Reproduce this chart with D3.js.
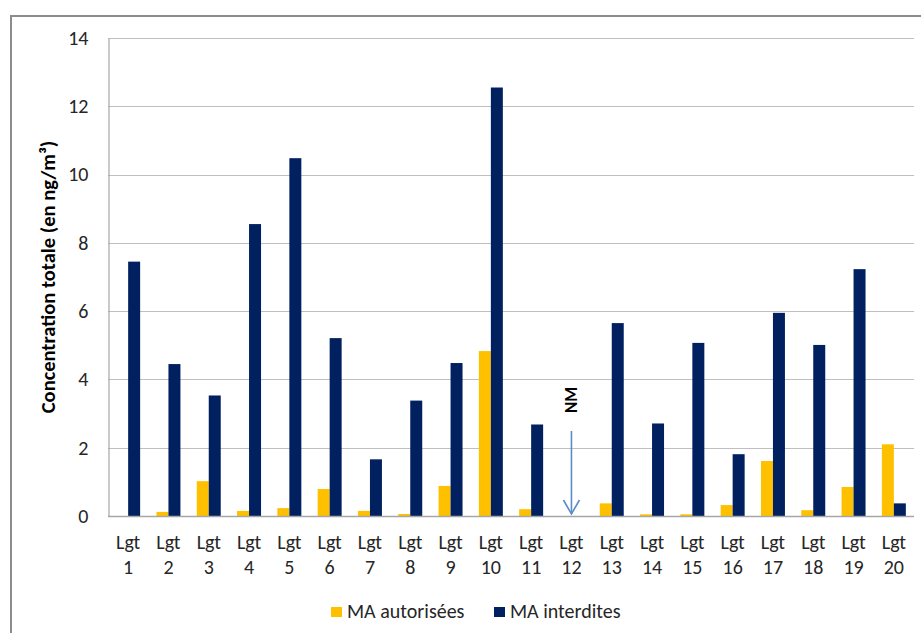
<!DOCTYPE html>
<html>
<head>
<meta charset="utf-8">
<script src="https://cdn.jsdelivr.net/npm/d3@7"></script>
<style>
  html, body { margin: 0; padding: 0; background: #fff; }
  svg { display: block; font-family: Carlito, Calibri, Lato, "Open Sans", sans-serif; }
</style>
</head>
<body>
<svg id="chart" width="921" height="633"></svg>
<script>
// Sites (Lgt = logement) and total concentrations, ng/m³
const categories = ["1","2","3","4","5","6","7","8","9","10","11","12","13","14","15","16","17","18","19","20"];
const seriesNames = ["MA autorisées", "MA interdites"];
const autorisees = [0, 0.12, 1.02, 0.15, 0.23, 0.79, 0.15, 0.06, 0.88, 4.83, 0.2, 0, 0.37, 0.05, 0.05, 0.32, 1.61, 0.17, 0.85, 2.1];
const interdites = [7.45, 4.45, 3.53, 8.55, 10.48, 5.21, 1.66, 3.38, 4.48, 12.55, 2.68, null, 5.65, 2.71, 5.07, 1.81, 5.95, 5.01, 7.23, 0.37];
const yTicks = [0, 2, 4, 6, 8, 10, 12, 14];
const notMeasured = "12"; // site without measurement
const colors = ["#FFC000", "#002060"];

const svg = d3.select("#chart");

// outer frame (top and left edges visible)
svg.append("path")
  .attr("d", "M11,650 V16 H940")
  .attr("fill", "none").attr("stroke", "#8c8c8c").attr("stroke-width", 2);

const plot = { left: 108, right: 914, top: 38, bottom: 516 };

const x0 = d3.scaleBand()
  .domain(categories)
  .range([plot.left, plot.right])
  .paddingInner(0.405)
  .paddingOuter(0.2025);
const x1 = d3.scaleBand().domain(seriesNames).range([0, x0.bandwidth()]);
const y = d3.scaleLinear().domain([0, 14]).range([plot.bottom, plot.top]);

// horizontal gridlines
svg.append("g")
  .selectAll("line")
  .data(yTicks.filter(d => d > 0))
  .join("line")
  .attr("x1", plot.left).attr("x2", plot.right)
  .attr("y1", d => Math.round(y(d)) + 0.5).attr("y2", d => Math.round(y(d)) + 0.5)
  .attr("stroke", "#bfbfbf").attr("stroke-width", 1.2);

// y axis
const yAxis = svg.append("g")
  .attr("transform", `translate(${plot.left + 0.5},0)`)
  .call(d3.axisLeft(y).tickValues(yTicks).tickSize(0).tickPadding(20));
yAxis.select(".domain").attr("stroke", "#a6a6a6").attr("stroke-width", 1.2);
yAxis.selectAll("text").attr("font-size", 20).attr("fill", "#262626")
  .attr("font-family", "Carlito, Calibri, Lato, sans-serif");

// bars
const rows = categories.map((c, i) => ({ cat: c, values: [autorisees[i], interdites[i]] }));
svg.append("g")
  .selectAll("g")
  .data(rows)
  .join("g")
  .attr("transform", d => `translate(${x0(d.cat)},0)`)
  .selectAll("rect")
  .data(d => d.values.map((v, k) => ({ name: seriesNames[k], v, k })).filter(d => d.v != null && d.v > 0))
  .join("rect")
  .attr("x", d => x1(d.name))
  .attr("width", x1.bandwidth())
  .attr("y", d => y(d.v))
  .attr("height", d => y(0) - y(d.v))
  .attr("fill", d => colors[d.k]);

// x axis baseline
svg.append("line")
  .attr("x1", plot.left).attr("x2", plot.right)
  .attr("y1", plot.bottom + 0.5).attr("y2", plot.bottom + 0.5)
  .attr("stroke", "#a6a6a6").attr("stroke-width", 1.5);

// category labels on two lines
const xLab = svg.append("g").selectAll("text")
  .data(categories)
  .join("text")
  .attr("x", d => x0(d) + x0.bandwidth() / 2)
  .attr("y", 549)
  .attr("text-anchor", "middle")
  .attr("font-size", 20)
  .attr("fill", "#262626");
xLab.append("tspan").attr("x", d => x0(d) + x0.bandwidth() / 2).text("Lgt");
xLab.append("tspan").attr("x", d => x0(d) + x0.bandwidth() / 2).attr("dy", 25).text(d => d);

// y axis title
svg.append("text")
  .attr("transform", "translate(55,277) rotate(-90)")
  .attr("text-anchor", "middle")
  .attr("font-size", 20.5)
  .attr("font-weight", "bold")
  .attr("fill", "#000")
  .text("Concentration totale (en ng/m³)");

// "NM" marker with arrow for the unmeasured site
const nmX = x0(notMeasured) + x0.bandwidth() / 2;
svg.append("text")
  .attr("transform", `translate(${nmX + 6},400) rotate(-90)`)
  .attr("text-anchor", "middle")
  .attr("font-size", 17)
  .attr("font-weight", "bold")
  .attr("fill", "#000")
  .text("NM");
const arrow = svg.append("g").attr("stroke", "#5b8cc8").attr("stroke-width", 1.6).attr("fill", "none");
arrow.append("line").attr("x1", nmX).attr("x2", nmX).attr("y1", 431).attr("y2", 514);
arrow.append("path").attr("d", `M${nmX - 8},500 L${nmX},514 L${nmX + 8},500`);

// legend
const legendItems = [
  { name: seriesNames[0], color: colors[0], x: 331 },
  { name: seriesNames[1], color: colors[1], x: 494 }
];
const lg = svg.append("g").selectAll("g").data(legendItems).join("g")
  .attr("transform", d => `translate(${d.x},607)`);
lg.append("rect").attr("width", 11).attr("height", 10).attr("fill", d => d.color);
lg.append("text").attr("x", 16).attr("y", 10.5).attr("font-size", 20).attr("fill", "#262626").text(d => d.name);
</script>
</body>
</html>
